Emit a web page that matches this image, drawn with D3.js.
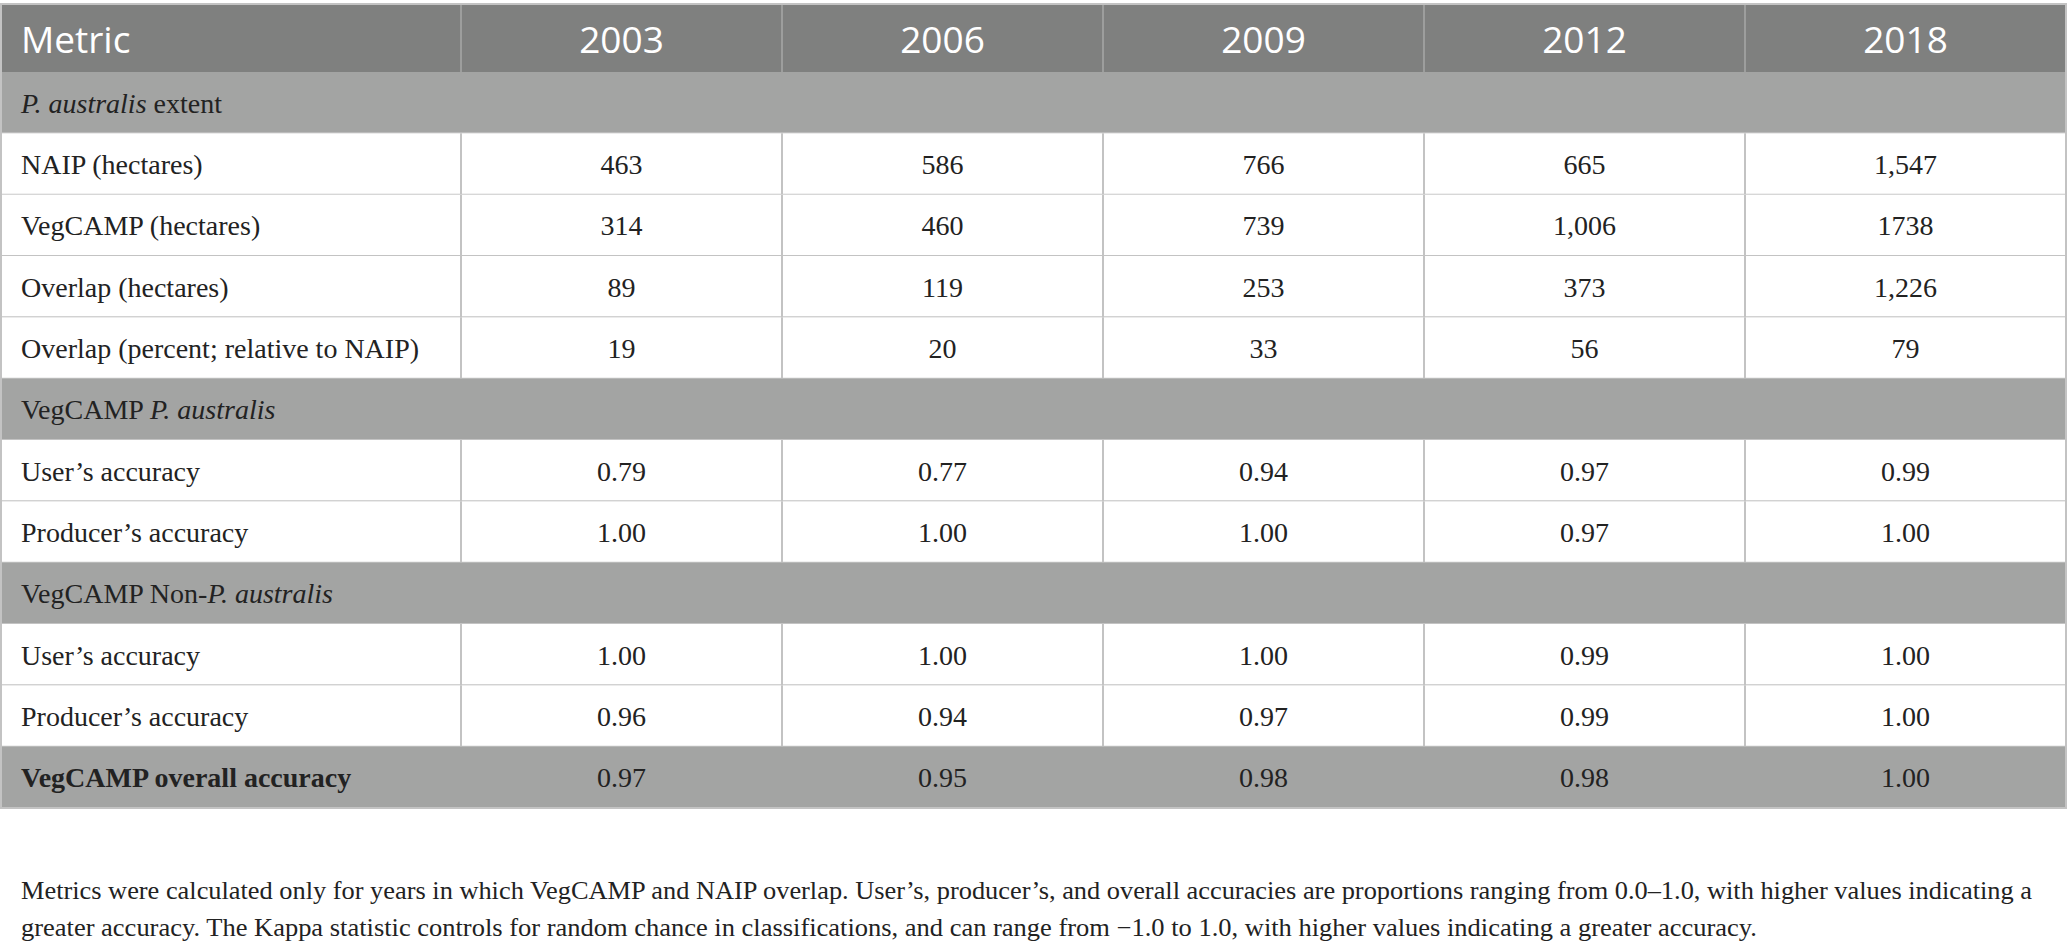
<!DOCTYPE html>
<html>
<head>
  <meta charset="utf-8">
  <style>
    body { margin: 0; background: #fff; }
    .head { font-family: "Open Sans", "Noto Sans", sans-serif; font-size: 37px; fill: #fff; }
    .cell { font-family: "Liberation Serif", "DejaVu Serif", serif; font-size: 28px; fill: #222; }
    .note { font-family: "Liberation Serif", serif; font-size: 25px; fill: #222; }
    .grid { stroke: #c3c3c3; stroke-width: 2px; }
    .hgrid { stroke: #9d9e9d; stroke-width: 2px; }
  </style>
</head>
<body>
  <svg width="2067" height="951"></svg>
  <script src="https://d3js.org/d3.v7.min.js"></script>
  <script>
    const years = ["2003", "2006", "2009", "2012", "2018"];

    const naipHa       = ["463", "586", "766", "665", "1,547"];
    const vegcampHa    = ["314", "460", "739", "1,006", "1738"];
    const overlapHa    = ["89", "119", "253", "373", "1,226"];
    const overlapPct   = ["19", "20", "33", "56", "79"];
    const paUsers      = ["0.79", "0.77", "0.94", "0.97", "0.99"];
    const paProducers  = ["1.00", "1.00", "1.00", "0.97", "1.00"];
    const nonUsers     = ["1.00", "1.00", "1.00", "0.99", "1.00"];
    const nonProducers = ["0.96", "0.94", "0.97", "0.99", "1.00"];
    const overallAcc   = ["0.97", "0.95", "0.98", "0.98", "1.00"];

    // rows: kind g = group heading, d = data, t = total (bold, shaded)
    const rows = [
      {kind: "g", label: [["P. australis", true], [" extent", false]]},
      {kind: "d", label: [["NAIP (hectares)", false]], vals: naipHa},
      {kind: "d", label: [["VegCAMP (hectares)", false]], vals: vegcampHa},
      {kind: "d", label: [["Overlap (hectares)", false]], vals: overlapHa},
      {kind: "d", label: [["Overlap (percent; relative to NAIP)", false]], vals: overlapPct},
      {kind: "g", label: [["VegCAMP ", false], ["P. australis", true]]},
      {kind: "d", label: [["User\u2019s accuracy", false]], vals: paUsers},
      {kind: "d", label: [["Producer\u2019s accuracy", false]], vals: paProducers},
      {kind: "g", label: [["VegCAMP Non-", false], ["P. australis", true]]},
      {kind: "d", label: [["User\u2019s accuracy", false]], vals: nonUsers},
      {kind: "d", label: [["Producer\u2019s accuracy", false]], vals: nonProducers},
      {kind: "t", label: [["VegCAMP overall accuracy", false]], vals: overallAcc}
    ];

    const notes = [
      "Metrics were calculated only for years in which VegCAMP and NAIP overlap. User\u2019s, producer\u2019s, and overall accuracies are proportions ranging from 0.0\u20131.0, with higher values indicating a",
      "greater accuracy. The Kappa statistic controls for random chance in classifications, and can range from \u22121.0 to 1.0, with higher values indicating a greater accuracy."
    ];

    const svg = d3.select("svg");
    const tLeft = 0, tRight = 2066, labelW = 461;
    const tTop = 4, headH = 68, tBottom = 808;

    const x = d3.scaleBand().domain(years).range([labelW, tRight]);
    const y = d3.scaleBand().domain(d3.range(rows.length)).range([tTop + headH, tBottom]);

    // header
    svg.append("rect")
      .attr("x", tLeft).attr("y", tTop)
      .attr("width", tRight - tLeft).attr("height", headH)
      .attr("fill", "#7f807f");

    svg.append("text").attr("class", "head")
      .attr("x", 21).attr("y", tTop + 49)
      .text("Metric");

    svg.selectAll(".yh").data(years).enter().append("text")
      .attr("class", "head")
      .attr("x", d => x(d) + x.bandwidth() / 2)
      .attr("y", tTop + 49)
      .attr("text-anchor", "middle")
      .text(d => d);

    svg.selectAll(".hv").data(years).enter().append("line")
      .attr("class", "hgrid")
      .attr("x1", d => x(d)).attr("x2", d => x(d))
      .attr("y1", tTop).attr("y2", tTop + headH);

    // body rows
    const row = svg.selectAll(".row").data(rows).enter().append("g")
      .attr("transform", (d, i) => `translate(0,${y(i)})`);

    row.append("rect")
      .attr("x", tLeft).attr("width", tRight - tLeft)
      .attr("height", y.bandwidth())
      .attr("fill", d => d.kind === "d" ? "#fff" : "#a3a4a3");

    row.filter(d => d.kind === "d").selectAll(".v").data(years).enter().append("line")
      .attr("class", "grid")
      .attr("x1", d => x(d)).attr("x2", d => x(d))
      .attr("y1", 0).attr("y2", y.bandwidth());

    row.append("line")
      .attr("class", "grid")
      .attr("x1", tLeft).attr("x2", tRight)
      .attr("y1", y.bandwidth()).attr("y2", y.bandwidth());

    const lab = row.append("text")
      .attr("class", "cell")
      .attr("x", 21)
      .attr("y", y.bandwidth() / 2 + 10)
      .style("font-weight", d => d.kind === "t" ? "bold" : null);

    lab.selectAll("tspan").data(d => d.label).enter().append("tspan")
      .style("font-style", d => d[1] ? "italic" : null)
      .text(d => d[0]);

    row.filter(d => d.vals).selectAll(".num")
      .data(d => d.vals.map((v, j) => ({v, yr: years[j]})))
      .enter().append("text")
      .attr("class", "cell")
      .attr("x", d => x(d.yr) + x.bandwidth() / 2)
      .attr("y", y.bandwidth() / 2 + 10)
      .attr("text-anchor", "middle")
      .text(d => d.v);

    // outer border
    svg.append("rect")
      .attr("x", tLeft + 1).attr("y", tTop)
      .attr("width", tRight - tLeft - 1).attr("height", tBottom - tTop)
      .attr("fill", "none").attr("stroke", "#c3c3c3").attr("stroke-width", 2);

    // footnote
    const noteEnds = [2032, 1757];
    svg.selectAll(".note").data(notes).enter().append("text")
      .attr("class", "note")
      .attr("x", 21)
      .attr("y", (d, i) => 899 + i * 37)
      .attr("textLength", (d, i) => noteEnds[i] - 21)
      .attr("lengthAdjust", "spacingAndGlyphs")
      .text(d => d);
  </script>
</body>
</html>
